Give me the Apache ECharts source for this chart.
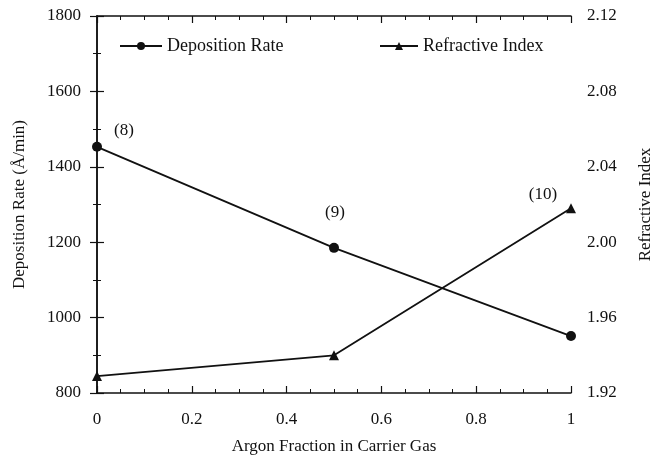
<!DOCTYPE html>
<html><head><meta charset="utf-8">
<script src="https://cdn.jsdelivr.net/npm/echarts@6/dist/echarts.min.js"></script>
<style>html,body{margin:0;padding:0;background:#fff}#c{width:654px;height:456px}</style>
</head><body><div id="c"></div>
<script>
const argonFraction = [0, 0.5, 1];
const depositionRate = [1453, 1185, 951];
const refractiveIndex = [1.929, 1.940, 2.018];
const runLabels = ['(8)', '(9)', '(10)'];
const xTicks = [0, 0.2, 0.4, 0.6, 0.8, 1];

const FONT = 'Liberation Serif';
const INK = '#111';
const chart = echarts.init(document.getElementById('c'), null, {renderer: 'canvas'});

const depData = argonFraction.map((x, i) => {
  const d = {value: [x, depositionRate[i]]};
  if (i === 0) d.label = {show: true, formatter: runLabels[0], offset: [27, -3]};
  if (i === 1) d.label = {show: true, formatter: runLabels[1], offset: [1, -22]};
  return d;
});
const riData = argonFraction.map((x, i) => {
  const d = {value: [x, refractiveIndex[i]]};
  if (i === 2) d.label = {show: true, formatter: runLabels[2], offset: [-28, 0]};
  return d;
});

const axisBase = {
  axisLine: {show: true, lineStyle: {color: INK, width: 1.5}},
  axisTick: {show: true, inside: true, length: 7, lineStyle: {color: INK, width: 1.2}},
  minorTick: {show: true, length: 4, lineStyle: {color: INK, width: 1}},
  splitLine: {show: false},
  axisLabel: {color: INK, fontFamily: FONT, fontSize: 17},
  nameTextStyle: {color: INK, fontFamily: FONT, fontSize: 17}
};

chart.setOption({
  animation: false,
  backgroundColor: '#fff',
  textStyle: {fontFamily: FONT, color: INK},
  grid: {left: 97, right: 83, top: 16, bottom: 63, containLabel: false, outerBoundsMode: 'none'},
  legend: [
    {data: ['Deposition Rate'], left: 114, top: 32, itemWidth: 42, itemHeight: 10, itemGap: 8,
     textStyle: {fontFamily: FONT, fontSize: 18, color: INK}},
    {data: ['Refractive Index'], left: 374, top: 32, itemWidth: 38, itemHeight: 10, itemGap: 10,
     textStyle: {fontFamily: FONT, fontSize: 18, color: INK}}
  ],
  xAxis: [
    Object.assign({}, axisBase, {
      type: 'value', min: 0, max: 1, interval: 0.2,
      minorTick: Object.assign({}, axisBase.minorTick, {splitNumber: 4}),
      axisLabel: Object.assign({}, axisBase.axisLabel, {margin: 18,
        formatter: v => { const t = xTicks.find(k => Math.abs(k - v) < 1e-9); return t === undefined ? '' : String(t); }}),
      name: 'Argon Fraction in Carrier Gas', nameLocation: 'middle', nameGap: 45
    }),
    Object.assign({}, axisBase, {
      type: 'value', min: 0, max: 1, interval: 0.2, position: 'top',
      minorTick: Object.assign({}, axisBase.minorTick, {splitNumber: 4}),
      axisLabel: {show: false}
    })
  ],
  yAxis: [
    Object.assign({}, axisBase, {
      type: 'value', min: 800, max: 1800, interval: 200,
      minorTick: Object.assign({}, axisBase.minorTick, {splitNumber: 2}),
      axisLabel: Object.assign({}, axisBase.axisLabel, {margin: 16, formatter: v => String(v)}),
      name: 'Deposition Rate (Å/min)', nameLocation: 'middle', nameGap: 69
    }),
    Object.assign({}, axisBase, {
      type: 'value', min: 1.92, max: 2.12, interval: 0.04, position: 'right',
      minorTick: Object.assign({}, axisBase.minorTick, {splitNumber: 2}),
      axisLabel: Object.assign({}, axisBase.axisLabel, {margin: 16, formatter: v => v.toFixed(2)}),
      name: 'Refractive Index', nameLocation: 'middle', nameGap: 66
    })
  ],
  series: [
    {name: 'Deposition Rate', type: 'line', xAxisIndex: 0, yAxisIndex: 0, data: depData,
     symbol: 'circle', symbolSize: 10, color: INK,
     lineStyle: {color: INK, width: 1.8}, itemStyle: {color: INK},
     label: {position: 'top', distance: 0, color: INK, fontFamily: FONT, fontSize: 17}},
    {name: 'Refractive Index', type: 'line', xAxisIndex: 0, yAxisIndex: 1, data: riData,
     symbol: 'triangle', symbolSize: 10, color: INK,
     lineStyle: {color: INK, width: 1.8}, itemStyle: {color: INK},
     label: {position: 'top', distance: 0, color: INK, fontFamily: FONT, fontSize: 17}}
  ]
});
</script></body></html>
